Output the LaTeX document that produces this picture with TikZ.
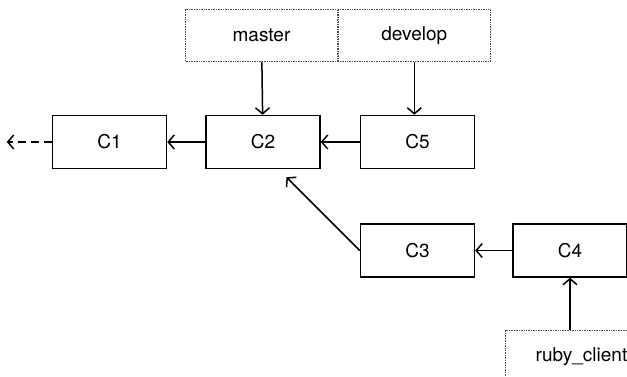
\documentclass[tikz,border=0pt]{standalone}
\usepackage{fontspec}
\setmainfont{TeX Gyre Heros}
\usetikzlibrary{arrows.meta,positioning}
\begin{document}
\begin{tikzpicture}[>={Straight Barb[length=6pt,width=14pt,line width=1.5pt]},
font=\fontsize{19}{22}\selectfont,
commit/.style={draw,line width=1.5pt,minimum width=114pt,minimum height=53pt,inner sep=0pt},
ref/.style={draw,gray!60!black,line width=0.8pt,dash pattern=on 0.8pt off 0.9pt,minimum width=152pt,minimum height=52pt,inner sep=0pt,text=black},
arr/.style={->,line width=1.5pt}]
\clip (0,0) rectangle (627pt,-377pt);
\node[commit] (c1) at (109.5pt,-142pt) {C1};
\node[commit,right=38pt of c1] (c2) {C2};
\node[commit,right=39pt of c2] (c5) {C5};
\node[ref,above=53pt of c2,xshift=-1.5pt] (master) {master};
\node[ref,right=0pt of master] (develop) {develop};
\node[commit,below=54pt of c5] (c3) {C3};
\node[commit,right=37pt of c3] (c4) {C4};
\node[ref,below=52pt of c4,xshift=11.5pt] (ruby) {ruby\_client};
\coordinate[left=45pt of c1.west] (older);
\coordinate (c2tip) at ([shift={(23.5pt,-8pt)}]c2.south);
\draw[arr,dashed,dash pattern=on 8pt off 5pt] (c1)--(older);
\draw[arr] (c2)--(c1);\draw[arr] (c5)--(c2);
\draw[arr] (master)--(c2);\draw[arr] (develop.south)--(develop.south|-c5.north);
\draw[arr] (c3.west)--(c2tip);\draw[arr] (c4)--(c3);
\draw[arr] (ruby.north-|c4.south)--(c4.south);
\end{tikzpicture}
\end{document}
